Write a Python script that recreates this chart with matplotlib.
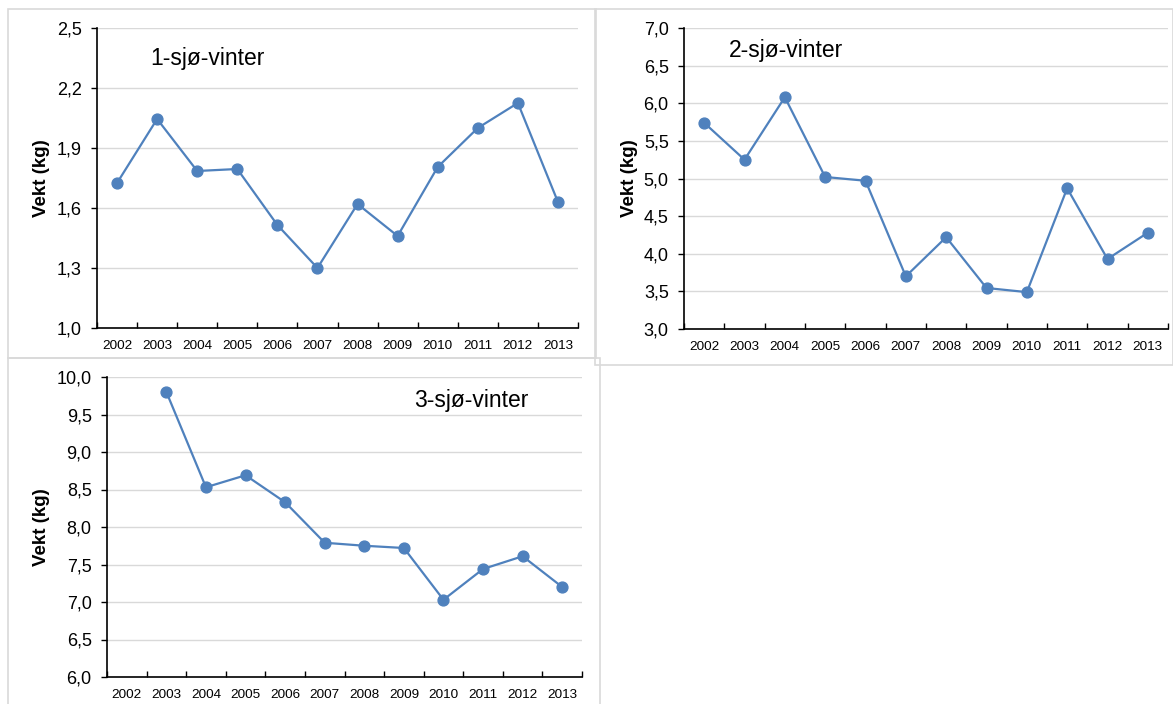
import matplotlib.pyplot as plt
from matplotlib.patches import Rectangle
from matplotlib.ticker import FuncFormatter, FixedLocator
import numpy as np

plt.rcParams["font.family"] = ["Liberation Sans", "DejaVu Sans"]

years = ["2002", "2003", "2004", "2005", "2006", "2007",
         "2008", "2009", "2010", "2011", "2012", "2013"]

sw1 = [1.725, 2.045, 1.785, 1.795, 1.515, 1.30, 1.62, 1.46, 1.805, 2.00, 2.125, 1.63]
sw2 = [5.74, 5.25, 6.08, 5.02, 4.97, 3.70, 4.22, 3.545, 3.49, 4.87, 3.93, 4.28]
sw3 = [np.nan, 9.80, 8.53, 8.69, 8.33, 7.79, 7.75, 7.72, 7.03, 7.44, 7.61, 7.20]

W, H = 1173, 704
fig = plt.figure(figsize=(W / 100, H / 100), dpi=100)


def px(x0, y0, x1, y1):
    # pixel box (top-left origin) -> figure fraction
    return [x0 / W, 1 - y1 / H, (x1 - x0) / W, (y1 - y0) / H]


# panel frames
for (x0, y0, x1, y1) in [(8, 9, 596, 358), (595, 9, 1173, 365), (8, 358, 600, 710)]:
    fig.patches.append(Rectangle((x0 / W, 1 - y1 / H), (x1 - x0) / W, (y1 - y0) / H,
                                 transform=fig.transFigure, fill=False,
                                 edgecolor="#d9d9d9", linewidth=1.2))

panels = [
    (sw1, (97, 28, 578, 328), (1.0, 2.5, 0.3), "1-sjø-vinter", (150, 58), 42),
    (sw2, (684, 28, 1168, 329), (3.0, 7.0, 0.5), "2-sjø-vinter", (729, 50), 630),
    (sw3, (107, 377, 582, 677), (6.0, 10.0, 0.5), "3-sjø-vinter", (414, 401), 42),
]

x = np.arange(len(years))
for vals, box, (lo, hi, step), title, (tx, ty), ylx in panels:
    ax = fig.add_axes(px(*box))
    ax.plot(x, vals, color="#4f81bd", linewidth=1.6, marker="o", markersize=7.8)
    ax.set_xlim(-0.5, len(years) - 0.5)
    ax.set_ylim(lo, hi)
    yt = np.arange(lo, hi + step / 2, step)
    ax.set_yticks(yt)
    ax.yaxis.set_major_formatter(FuncFormatter(lambda v, p: f"{v:.1f}".replace(".", ",")))
    ax.set_xticks(x)
    ax.set_xticklabels(years, fontsize=9.7)
    ax.xaxis.set_minor_locator(FixedLocator(np.arange(-0.5, len(years), 1.0)))
    ax.tick_params(axis="x", which="major", length=0, pad=9)
    ax.tick_params(axis="x", which="minor", direction="in", length=4, width=1)
    ax.tick_params(axis="y", direction="out", length=4, width=1, labelsize=13, pad=7)
    ax.grid(axis="y", color="#d9d9d9", linewidth=1)
    ax.set_axisbelow(True)
    for s in ["top", "right"]:
        ax.spines[s].set_visible(False)
    for s in ["left", "bottom"]:
        ax.spines[s].set_linewidth(1.2)
    fig.text(tx / W, 1 - ty / H, title, fontsize=16.5, ha="left", va="center")
    fig.text(ylx / W, 1 - ((box[1] + box[3]) / 2) / H, "Vekt (kg)", rotation=90,
             fontsize=13.5, fontweight="bold", ha="center", va="center")

fig.savefig("out.png", dpi=100)
